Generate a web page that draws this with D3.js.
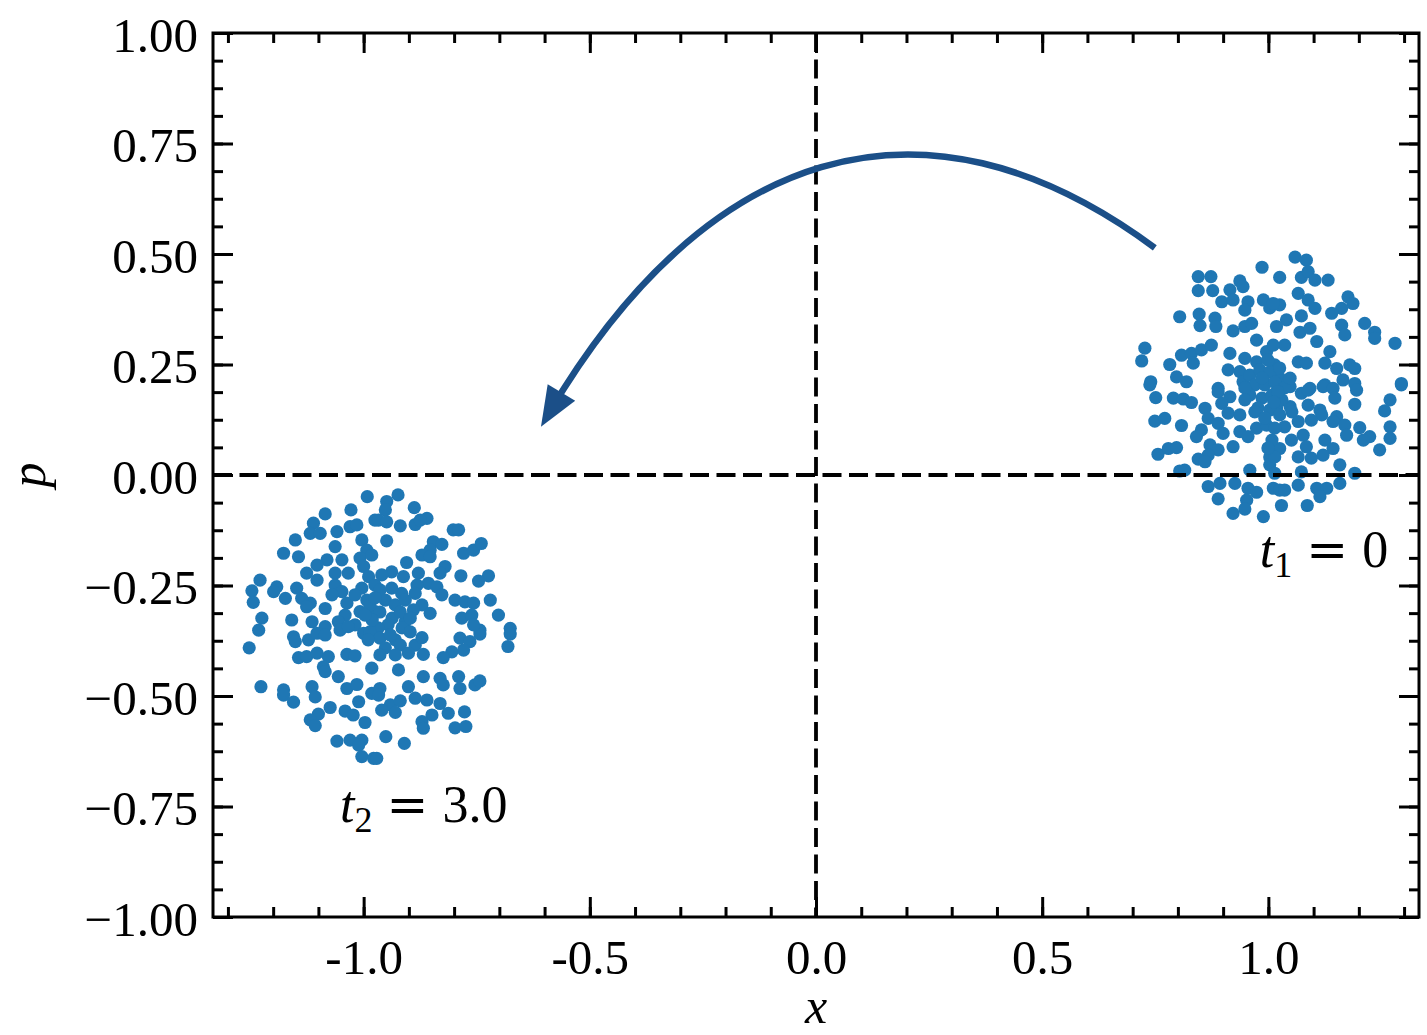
<!DOCTYPE html>
<html>
<head>
<meta charset="utf-8">
<script src="https://cdn.jsdelivr.net/npm/d3@7"></script>
<style>
  body { margin: 0; background: #fff; }
  svg { display: block; font-family: "Liberation Serif", "DejaVu Serif", serif; }
</style>
</head>
<body>
<div id="canvas"></div>
<script>
// axis setup
const xDomain = [-1.333, 1.333];
const yDomain = [-1, 1];
const xTicks = [-1.0, -0.5, 0.0, 0.5, 1.0];
const yTicks = [-1.0, -0.75, -0.5, -0.25, 0.0, 0.25, 0.5, 0.75, 1.0];

// phase-space points at t1 = 0  [x, p]
const cloudT1 = [
  [0.986,0.470],[0.845,0.449],[0.873,0.449],[0.845,0.417],[0.877,0.417],[0.937,0.439],[0.915,0.419],[0.944,0.426],
  [0.897,0.392],[0.922,0.396],[0.955,0.392],[0.989,0.396],[1.003,0.378],[0.948,0.373],[0.804,0.358],[0.847,0.364],
  [0.882,0.355],[0.849,0.338],[0.884,0.336],[0.922,0.326],[0.948,0.336],[0.963,0.343],[0.974,0.305],[0.727,0.287],
  [0.720,0.258],[0.782,0.250],[0.808,0.271],[0.830,0.275],[0.852,0.283],[0.874,0.294],[0.834,0.253],[0.915,0.275],
  [0.948,0.264],[0.974,0.256],[0.911,0.238],[0.937,0.234],[0.996,0.279],[0.740,0.211],[0.797,0.222],[0.819,0.211],
  [0.889,0.196],[0.944,0.211],[0.988,0.219],[1.059,0.493],[1.084,0.486],[1.025,0.447],[1.073,0.447],[1.088,0.460],
  [1.103,0.441],[1.132,0.441],[1.066,0.411],[1.088,0.396],[1.103,0.377],[1.176,0.403],[1.187,0.388],[1.162,0.377],
  [1.140,0.366],[1.025,0.385],[1.011,0.388],[1.073,0.360],[1.040,0.351],[1.018,0.336],[1.070,0.323],[1.092,0.332],
  [1.107,0.302],[1.162,0.339],[1.169,0.317],[1.213,0.343],[1.235,0.323],[1.235,0.309],[1.280,0.298],[1.036,0.294],
  [1.011,0.294],[1.136,0.279],[1.066,0.256],[1.084,0.253],[1.125,0.253],[1.151,0.241],[1.180,0.249],[1.191,0.241],
  [1.165,0.215],[1.191,0.207],[1.294,0.207],[1.014,0.249],[1.025,0.219],[1.044,0.211],[1.092,0.196],[1.125,0.204],
  [0.738,0.204],[0.751,0.175],[0.790,0.174],[0.812,0.172],[0.830,0.164],[0.889,0.188],[0.915,0.177],[0.897,0.162],
  [0.860,0.151],[0.749,0.122],[0.771,0.128],[0.808,0.112],[0.867,0.128],[0.889,0.117],[0.911,0.140],[0.852,0.102],
  [0.841,0.087],[0.900,0.094],[0.937,0.098],[0.955,0.087],[0.974,0.106],[0.996,0.113],[0.922,0.064],[0.756,0.047],
  [0.779,0.060],[0.797,0.062],[0.871,0.068],[0.889,0.057],[0.867,0.045],[0.845,0.036],[0.860,0.030],[0.804,0.009],
  [0.815,0.011],[0.959,0.011],[1.003,0.041],[1.003,0.023],[0.867,-0.026],[0.893,-0.019],[0.889,-0.054],[0.926,-0.019],
  [0.955,-0.030],[0.974,-0.039],[0.952,-0.057],[0.948,-0.077],[0.922,-0.087],[0.989,-0.094],[1.011,-0.030],
  [1.018,0.188],[1.048,0.200],[1.073,0.185],[1.088,0.192],[1.121,0.200],[1.143,0.196],[1.195,0.192],[1.294,0.204],
  [1.147,0.174],[1.191,0.160],[1.088,0.158],[1.048,0.155],[1.018,0.151],[1.114,0.147],[1.118,0.136],[1.269,0.170],
  [1.257,0.145],[1.151,0.132],[1.143,0.121],[1.169,0.113],[1.095,0.124],[1.066,0.121],[1.036,0.109],[1.014,0.106],
  [1.173,0.090],[1.202,0.107],[1.269,0.109],[1.224,0.087],[1.210,0.079],[1.269,0.083],[1.246,0.057],[1.077,0.090],
  [1.051,0.079],[1.084,0.064],[1.125,0.079],[1.143,0.060],[1.121,0.045],[1.095,0.038],[1.066,0.041],[1.025,0.060],
  [1.014,0.041],[1.014,0.004],[1.073,0.007],[1.158,0.023],[1.191,0.004],[1.025,-0.034],[1.036,-0.034],[1.066,-0.023],
  [1.158,-0.019],[1.107,-0.030],[1.129,-0.030],[1.114,-0.049],[1.029,-0.069],[1.086,-0.069],
  [0.959,0.226],[0.981,0.238],[1.003,0.233],[1.025,0.242],[0.970,0.204],[0.992,0.204],[1.014,0.210],[1.036,0.197],
  [0.959,0.181],[0.986,0.174],[1.008,0.181],[1.030,0.170],[0.977,0.152],[1.003,0.147],[1.048,0.219],[0.948,0.197],
  [0.999,0.260],[1.021,0.188],[0.986,0.219],[1.012,0.165],[0.948,0.170],[0.970,0.143],[0.937,0.136],[0.992,0.129],
  [1.025,0.136],[1.052,0.143],[1.008,0.079],[0.999,0.061]
];

// phase-space points at t2 = 3.0  [x, p]
const cloudT2 = [
  [-0.992,-0.049],[-1.028,-0.079],[-1.085,-0.088],[-0.975,-0.102],[-1.111,-0.109],[-1.030,-0.117],[-1.015,-0.113],
  [-1.059,-0.128],[-1.118,-0.132],[-1.096,-0.132],[-1.151,-0.147],[-1.004,-0.147],[-0.993,-0.170],[-1.063,-0.162],
  [-1.177,-0.177],[-1.144,-0.185],[-1.048,-0.192],[-1.081,-0.192],[-1.103,-0.204],[-1.008,-0.188],[-0.982,-0.181],
  [-1.000,-0.207],[-1.126,-0.222],[-1.103,-0.238],[-1.063,-0.222],[-1.034,-0.222],[-1.229,-0.238],[-1.247,-0.262],
  [-1.244,-0.288],[-1.192,-0.253],[-1.199,-0.264],[-1.173,-0.279],[-1.148,-0.256],[-1.137,-0.279],[-1.118,-0.290],
  [-1.126,-0.298],[-1.063,-0.249],[-1.048,-0.264],[-1.070,-0.271],[-1.037,-0.290],[-1.085,-0.302],[-0.989,-0.230],
  [-0.975,-0.249],[-1.004,-0.256],[-0.993,-0.283],[-1.019,-0.271],[-1.225,-0.324],[-1.159,-0.328],[-1.114,-0.332],
  [-1.085,-0.343],[-1.041,-0.317],[-1.056,-0.332],[-1.008,-0.309],[-1.019,-0.339],[-0.982,-0.324],[-0.975,-0.309],
  [-0.924,-0.045],[-0.949,-0.060],[-0.888,-0.074],[-0.952,-0.079],[-0.967,-0.102],[-0.949,-0.106],[-0.919,-0.115],
  [-0.886,-0.112],[-0.860,-0.098],[-0.875,-0.102],[-0.802,-0.124],[-0.790,-0.124],[-0.949,-0.149],[-0.846,-0.151],
  [-0.827,-0.157],[-0.853,-0.170],[-0.871,-0.181],[-0.853,-0.185],[-0.779,-0.177],[-0.757,-0.170],[-0.740,-0.155],
  [-0.905,-0.198],[-0.820,-0.207],[-0.831,-0.222],[-0.938,-0.219],[-0.960,-0.226],[-0.912,-0.230],[-0.879,-0.222],
  [-0.785,-0.228],[-0.724,-0.228],[-0.746,-0.240],[-0.857,-0.245],[-0.838,-0.253],[-0.882,-0.249],[-0.886,-0.268],
  [-0.827,-0.271],[-0.916,-0.268],[-0.938,-0.256],[-0.798,-0.283],[-0.776,-0.287],[-0.757,-0.290],[-0.720,-0.283],
  [-0.871,-0.294],[-0.890,-0.305],[-0.853,-0.313],[-0.783,-0.324],[-0.761,-0.317],[-0.702,-0.317],[-0.676,-0.347],
  [-0.743,-0.351],[-0.908,-0.332],[-0.964,-0.260],[-0.952,-0.283],[-0.930,-0.294],[-0.964,-0.310],[-0.937,-0.324],
  [-0.919,-0.310],[-0.946,-0.339],[-0.968,-0.346],[-0.915,-0.346],
  [-1.232,-0.351],[-1.253,-0.391],[-1.155,-0.366],[-1.151,-0.377],[-1.122,-0.373],[-1.103,-0.358],[-1.085,-0.362],
  [-1.052,-0.351],[-1.034,-0.343],[-1.000,-0.358],[-0.986,-0.355],[-1.144,-0.413],[-1.126,-0.411],[-1.103,-0.403],
  [-1.078,-0.411],[-1.037,-0.406],[-1.019,-0.409],[-0.982,-0.437],[-1.089,-0.434],[-1.085,-0.445],[-1.056,-0.456],
  [-1.227,-0.479],[-1.177,-0.486],[-1.177,-0.498],[-1.155,-0.514],[-1.114,-0.479],[-1.107,-0.502],[-1.037,-0.483],
  [-1.015,-0.474],[-0.982,-0.494],[-1.011,-0.513],[-1.041,-0.534],[-1.074,-0.526],[-1.100,-0.541],[-1.118,-0.554],
  [-1.107,-0.567],[-1.023,-0.543],[-0.997,-0.560],[-1.059,-0.602],[-1.030,-0.600],[-1.004,-0.600],[-1.011,-0.611],
  [-1.004,-0.637],[-0.978,-0.641],
  [-0.964,-0.369],[-0.930,-0.373],[-0.897,-0.355],[-0.952,-0.391],[-0.919,-0.385],[-0.964,-0.407],[-0.930,-0.407],
  [-0.886,-0.385],[-0.871,-0.368],[-0.868,-0.406],[-0.901,-0.403],[-0.923,-0.441],[-0.787,-0.369],[-0.765,-0.377],
  [-0.743,-0.360],[-0.757,-0.339],[-0.676,-0.360],[-0.681,-0.388],[-0.779,-0.396],[-0.805,-0.400],[-0.824,-0.413],
  [-0.868,-0.456],[-0.901,-0.479],[-0.831,-0.460],[-0.824,-0.475],[-0.790,-0.456],[-0.787,-0.483],[-0.754,-0.475],
  [-0.743,-0.466],[-0.964,-0.483],[-0.967,-0.498],[-0.941,-0.520],[-0.919,-0.511],[-0.960,-0.532],[-0.930,-0.537],
  [-0.886,-0.505],[-0.860,-0.509],[-0.831,-0.517],[-0.849,-0.543],[-0.871,-0.558],[-0.868,-0.573],[-0.813,-0.539],
  [-0.777,-0.536],[-0.798,-0.572],[-0.774,-0.569],[-0.951,-0.592],[-0.910,-0.607],[-0.971,-0.641],
  [-0.986,-0.294],[-0.981,-0.328],[-0.990,-0.373],[-0.975,-0.278],[-0.908,-0.283],[-0.941,-0.362],[-0.997,-0.317],
  [-0.897,-0.324]
];

// curved arrow (bezier: start, control 1, control 2, tip)
const arrowPts = [[0.749, 0.514], [0.219, 0.916], [-0.267, 0.724], [-0.608, 0.109]];

// time labels
const timeLabels = [
  { pos: [0.981, -0.208], name: "t", sub: "1", value: "0" },
  { pos: [-1.052, -0.785], name: "t", sub: "2", value: "3.0" }
];

const width = 1427;
const height = 1035;
const margin = { top: 33, left: 213, bottom: 118, right: 8 };
const iwidth = width - margin.left - margin.right;
const iheight = height - margin.top - margin.bottom;

const dotColor = "#1f77b4";
const arrowColor = "#1b4f88";

const svg = d3.select("#canvas").append("svg")
  .attr("width", width)
  .attr("height", height);

const g = svg.append("g").attr("transform", `translate(${margin.left},${margin.top})`);

const x = d3.scaleLinear().domain(xDomain).range([0, iwidth]);
const y = d3.scaleLinear().domain(yDomain).range([iheight, 0]);

// scatter clouds
[cloudT1, cloudT2].forEach(pts => {
  g.append("g").selectAll("circle").data(pts).enter().append("circle")
    .attr("cx", d => x(d[0]))
    .attr("cy", d => y(d[1]))
    .attr("r", 6.6)
    .attr("fill", dotColor);
});

// dashed zero lines
g.append("line")
  .attr("x1", 0).attr("x2", iwidth)
  .attr("y1", y(0)).attr("y2", y(0))
  .attr("stroke", "#000").attr("stroke-width", 3.8)
  .attr("stroke-dasharray", "19,7.5");
g.append("line")
  .attr("x1", x(0)).attr("x2", x(0))
  .attr("y1", 0).attr("y2", iheight)
  .attr("stroke", "#000").attr("stroke-width", 3.8)
  .attr("stroke-dasharray", "19,7.5");

// arrow
const [a0, a1, a2, a3] = arrowPts.map(d => [x(d[0]), y(d[1])]);
const ap = d3.path();
ap.moveTo(a0[0], a0[1]);
ap.bezierCurveTo(a1[0], a1[1], a2[0], a2[1], a3[0], a3[1]);
const arrow = g.append("path")
  .attr("d", ap.toString())
  .attr("fill", "none")
  .attr("stroke", arrowColor)
  .attr("stroke-width", 6.5);
const len = arrow.node().getTotalLength();
arrow.attr("stroke-dasharray", `${len - 16} ${len}`);
const headLen = 40, headHalf = 16;
const base = arrow.node().getPointAtLength(len - headLen);
let ux = a3[0] - base.x, uy = a3[1] - base.y;
const ul = Math.hypot(ux, uy);
ux /= ul; uy /= ul;
const bx = a3[0] - ux * headLen, by = a3[1] - uy * headLen;
g.append("path")
  .attr("d", `M${a3[0]},${a3[1]}L${bx - uy * headHalf},${by + ux * headHalf}L${bx + uy * headHalf},${by - ux * headHalf}Z`)
  .attr("fill", arrowColor);

// axes: major and minor ticks pointing inward
const xMinor = d3.range(-13, 14).map(i => i / 10);
const yMinor = d3.range(-16, 17).map(i => i / 16);
const noDomain = sel => sel.select(".domain").remove();

const xAxis = g.append("g")
  .attr("transform", `translate(0,${iheight})`)
  .call(d3.axisBottom(x).tickValues(xTicks).tickSize(-20).tickPadding(22).tickFormat(d => d.toFixed(1)))
  .call(noDomain);
g.append("g")
  .attr("transform", `translate(0,${iheight})`)
  .call(d3.axisBottom(x).tickValues(xMinor).tickSize(-10).tickFormat(""))
  .call(noDomain);
g.append("g")
  .call(d3.axisTop(x).tickValues(xTicks).tickSize(-20).tickFormat(""))
  .call(noDomain);
g.append("g")
  .call(d3.axisTop(x).tickValues(xMinor).tickSize(-10).tickFormat(""))
  .call(noDomain);

const yAxis = g.append("g")
  .call(d3.axisLeft(y).tickValues(yTicks).tickSize(-20).tickPadding(15).tickFormat(d3.format(".2f")))
  .call(noDomain);
g.append("g")
  .call(d3.axisLeft(y).tickValues(yMinor).tickSize(-10).tickFormat(""))
  .call(noDomain);
g.append("g")
  .attr("transform", `translate(${iwidth},0)`)
  .call(d3.axisRight(y).tickValues(yTicks).tickSize(-20).tickFormat(""))
  .call(noDomain);
g.append("g")
  .attr("transform", `translate(${iwidth},0)`)
  .call(d3.axisRight(y).tickValues(yMinor).tickSize(-10).tickFormat(""))
  .call(noDomain);

g.selectAll(".tick line").attr("stroke", "#000").attr("stroke-width", 3);
g.selectAll(".tick text")
  .attr("fill", "#000")
  .style("font-family", "'Liberation Serif', serif")
  .style("font-size", "49px");
yAxis.selectAll(".tick text").attr("dy", "0.37em");

// frame
g.append("rect")
  .attr("width", iwidth)
  .attr("height", iheight)
  .attr("fill", "none")
  .attr("stroke", "#000")
  .attr("stroke-width", 3);

// axis labels
g.append("text")
  .attr("x", iwidth / 2)
  .attr("y", iheight + 106)
  .attr("text-anchor", "middle")
  .style("font-size", "50px")
  .style("font-style", "italic")
  .text("x");
g.append("text")
  .attr("transform", `translate(${45 - margin.left},${iheight / 2}) rotate(-90)`)
  .attr("text-anchor", "middle")
  .style("font-size", "50px")
  .style("font-style", "italic")
  .text("p");

// time annotations
timeLabels.forEach(d => {
  const t = g.append("text")
    .attr("x", x(d.pos[0]))
    .attr("y", y(d.pos[1]))
    .style("font-size", "52px");
  t.append("tspan").style("font-style", "italic").text(d.name);
  t.append("tspan").attr("dy", 10).style("font-size", "36px").text(d.sub);
  t.append("tspan").attr("dy", -10).attr("dx", 14)
    .style("font-family", "'DejaVu Serif', serif").style("font-size", "50px").text("=");
  t.append("tspan").attr("dx", 14).text(d.value);
});
</script>
</body>
</html>
